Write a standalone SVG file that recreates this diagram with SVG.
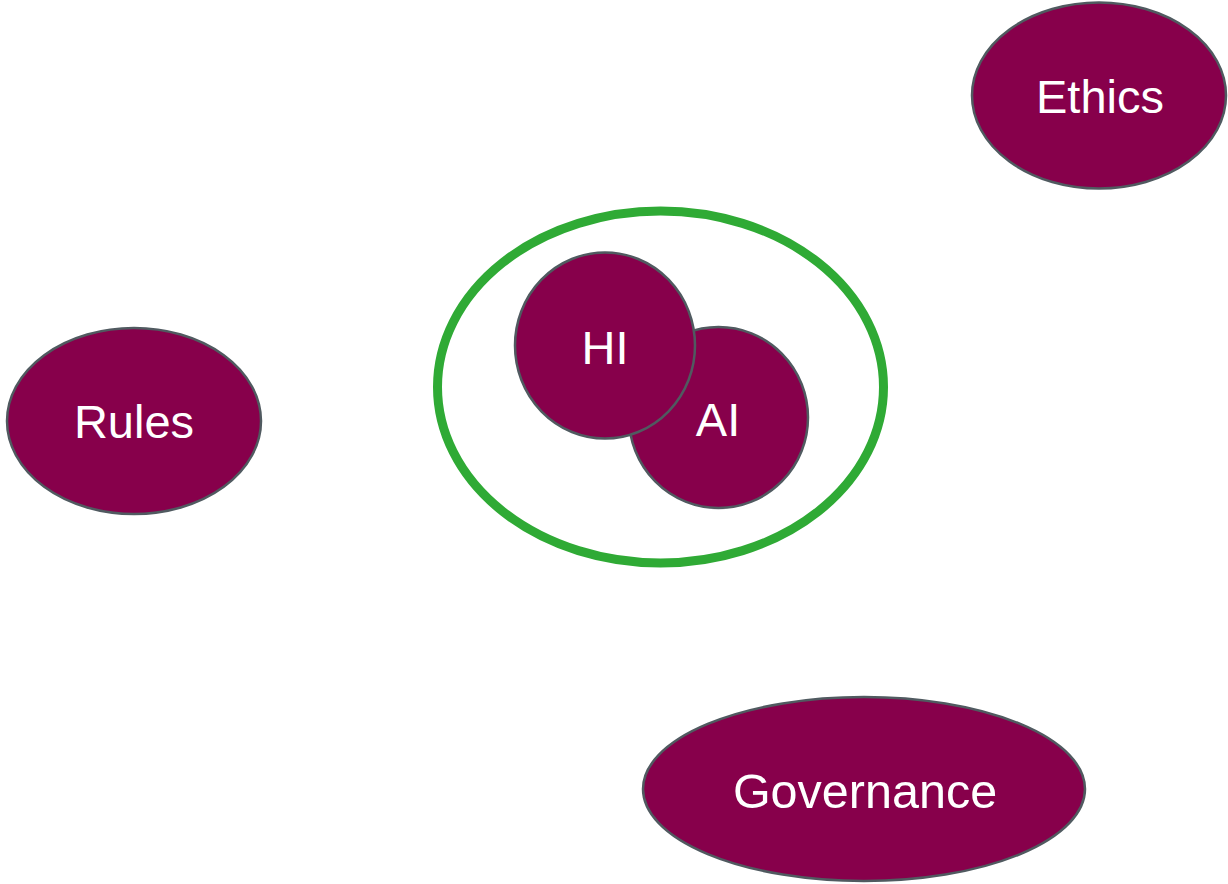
<svg xmlns="http://www.w3.org/2000/svg" width="1228" height="884" viewBox="0 0 1228 884">
  <style>
    .node { fill: #87004b; stroke: #505a60; stroke-width: 2.5; }
    .label { fill: #ffffff; font-family: "Liberation Sans", Arial, sans-serif; font-size: 47px; text-anchor: middle; }
    .frame { fill: none; stroke: #2faa35; stroke-width: 9; }
  </style>
  <rect width="1228" height="884" fill="#ffffff"/>
  <g id="connectors"></g>
  <g id="ethics">
    <ellipse class="node" cx="1099" cy="95.5" rx="127" ry="93"/>
    <text class="label" x="1100" y="113">Ethics</text>
  </g>
  <g id="rules">
    <ellipse class="node" cx="134" cy="421" rx="127" ry="93"/>
    <text class="label" x="134" y="438">Rules</text>
  </g>
  <g id="governance">
    <ellipse class="node" cx="864" cy="789" rx="221" ry="92"/>
    <text class="label" x="865" y="808" style="font-size:48.5px">Governance</text>
  </g>
  <g id="hybrid">
    <ellipse class="frame" cx="660.5" cy="387" rx="223" ry="176"/>
    <g id="ai">
      <ellipse class="node" cx="718.5" cy="417.5" rx="89.5" ry="90.5"/>
      <text class="label" x="718" y="436">AI</text>
    </g>
    <g id="hi">
      <ellipse class="node" cx="605" cy="345.5" rx="90" ry="93"/>
      <text class="label" x="605" y="364">HI</text>
    </g>
  </g>
</svg>
